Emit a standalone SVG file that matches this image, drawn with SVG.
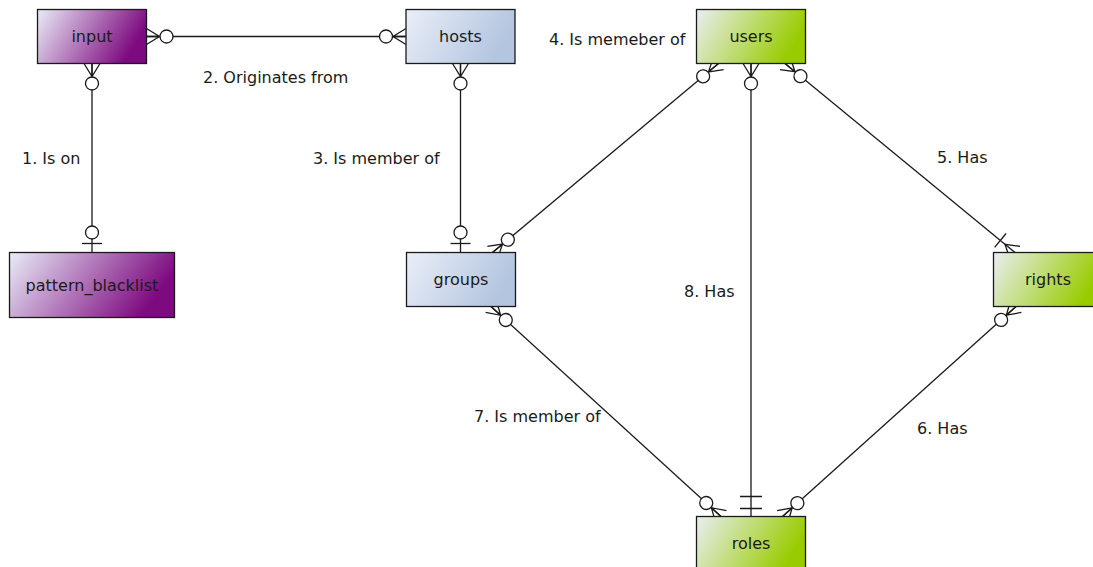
<svg xmlns="http://www.w3.org/2000/svg" width="1093" height="567" viewBox="0 0 1093 567">
  <style>
    .box { stroke: #1a1a1a; stroke-width: 1.3; }
    .name { font-family: "DejaVu Sans", sans-serif; font-size: 16px; fill: #1a1a1a; text-anchor: middle; }
    .rel { font-family: "DejaVu Sans", sans-serif; font-size: 16px; fill: #1a1a1a; }
    .edge { fill: none; stroke: #1a1a1a; stroke-width: 1.3; }
    .mk { fill: none; stroke: #1a1a1a; stroke-width: 1.3; }
    .ring { fill: #ffffff; stroke: #1a1a1a; stroke-width: 1.3; }
  </style>
  <defs>
    <linearGradient id="gPurple" x1="0" y1="0" x2="1" y2="0.3">
      <stop offset="0" stop-color="#e9ecf7"/>
      <stop offset="1" stop-color="#7e0a80"/>
    </linearGradient>
    <linearGradient id="gBlue" x1="0" y1="0" x2="1" y2="0.3">
      <stop offset="0" stop-color="#eaeef8"/>
      <stop offset="1" stop-color="#b3c5df"/>
    </linearGradient>
    <linearGradient id="gGreen" x1="0" y1="0" x2="1" y2="0.3">
      <stop offset="0" stop-color="#e9eef2"/>
      <stop offset="1" stop-color="#99cc00"/>
    </linearGradient>
    <!-- zero or many: ring + crow's foot -->
    <marker id="zeroMany" markerUnits="userSpaceOnUse" orient="auto-start-reverse" refX="0" refY="0" markerWidth="60" markerHeight="60" viewBox="-30 -30 60 60" overflow="visible">
      <path class="mk" d="M0,-8 L-13,0 L0,8 M0,0 L-13,0"/>
      <circle class="ring" cx="-20" cy="0" r="6.5"/>
    </marker>
    <!-- zero or one: ring + bar -->
    <marker id="zeroOne" markerUnits="userSpaceOnUse" orient="auto-start-reverse" refX="0" refY="0" markerWidth="60" markerHeight="60" viewBox="-30 -30 60 60" overflow="visible">
      <path class="mk" d="M-9,-10 L-9,10"/>
      <circle class="ring" cx="-20" cy="0" r="6.5"/>
    </marker>
    <!-- exactly one: two bars -->
    <marker id="oneOne" markerUnits="userSpaceOnUse" orient="auto-start-reverse" refX="0" refY="0" markerWidth="60" markerHeight="60" viewBox="-30 -30 60 60" overflow="visible">
      <path class="mk" d="M-8,-11 L-8,11 M-20,-11 L-20,11"/>
    </marker>
    <!-- one or many: bar + crow's foot -->
    <marker id="oneMany" markerUnits="userSpaceOnUse" orient="auto-start-reverse" refX="0" refY="0" markerWidth="60" markerHeight="60" viewBox="-30 -30 60 60" overflow="visible">
      <path class="mk" d="M0,-8 L-13,0 L0,8 M-19,-9 L-19,9"/>
    </marker>
  </defs>

  <g id="connectors">
    <path class="edge" d="M92,63.5 L92,252.5" marker-start="url(#zeroMany)" marker-end="url(#zeroOne)"/>
    <path class="edge" d="M146.5,36.5 L406,36.5" marker-start="url(#zeroMany)" marker-end="url(#zeroMany)"/>
    <path class="edge" d="M460.5,63.5 L460.5,252.5" marker-start="url(#zeroMany)" marker-end="url(#zeroOne)"/>
    <path class="edge" d="M492.5,252.5 L718.5,63.5" marker-start="url(#zeroMany)" marker-end="url(#zeroMany)"/>
    <path class="edge" d="M785,63.5 L1015,252.5" marker-start="url(#zeroMany)" marker-end="url(#oneMany)"/>
    <path class="edge" d="M1016,306.5 L782.5,516.5" marker-start="url(#zeroMany)" marker-end="url(#zeroMany)"/>
    <path class="edge" d="M491,306.5 L721,516.5" marker-start="url(#zeroMany)" marker-end="url(#zeroMany)"/>
    <path class="edge" d="M751,63.5 L751,516.5" marker-start="url(#zeroMany)" marker-end="url(#oneOne)"/>
  </g>

  <g id="labels">
    <text class="rel" x="22" y="164">1. Is on</text>
    <text class="rel" x="203" y="83">2. Originates from</text>
    <text class="rel" x="313" y="164">3. Is member of</text>
    <text class="rel" x="549" y="45">4. Is memeber of</text>
    <text class="rel" x="937" y="163">5. Has</text>
    <text class="rel" x="917" y="434">6. Has</text>
    <text class="rel" x="474" y="422">7. Is member of</text>
    <text class="rel" x="684" y="297">8. Has</text>
  </g>

  <g id="input">
    <rect class="box" x="37.5" y="9.5" width="109" height="54" fill="url(#gPurple)"/>
    <text class="name" x="92" y="42">input</text>
  </g>
  <g id="hosts">
    <rect class="box" x="406" y="9.5" width="109" height="54" fill="url(#gBlue)"/>
    <text class="name" x="460.5" y="42">hosts</text>
  </g>
  <g id="users">
    <rect class="box" x="696.5" y="9.5" width="109" height="54" fill="url(#gGreen)"/>
    <text class="name" x="751" y="42">users</text>
  </g>
  <g id="pattern_blacklist">
    <rect class="box" x="9.5" y="252.5" width="165" height="65" fill="url(#gPurple)"/>
    <text class="name" x="92" y="290.5">pattern_blacklist</text>
  </g>
  <g id="groups">
    <rect class="box" x="406.5" y="252.5" width="109" height="54" fill="url(#gBlue)"/>
    <text class="name" x="461" y="285">groups</text>
  </g>
  <g id="rights">
    <rect class="box" x="993.5" y="252.5" width="109" height="54" fill="url(#gGreen)"/>
    <text class="name" x="1048" y="285">rights</text>
  </g>
  <g id="roles">
    <rect class="box" x="696.5" y="516.5" width="109" height="54" fill="url(#gGreen)"/>
    <text class="name" x="751" y="549">roles</text>
  </g>
</svg>
